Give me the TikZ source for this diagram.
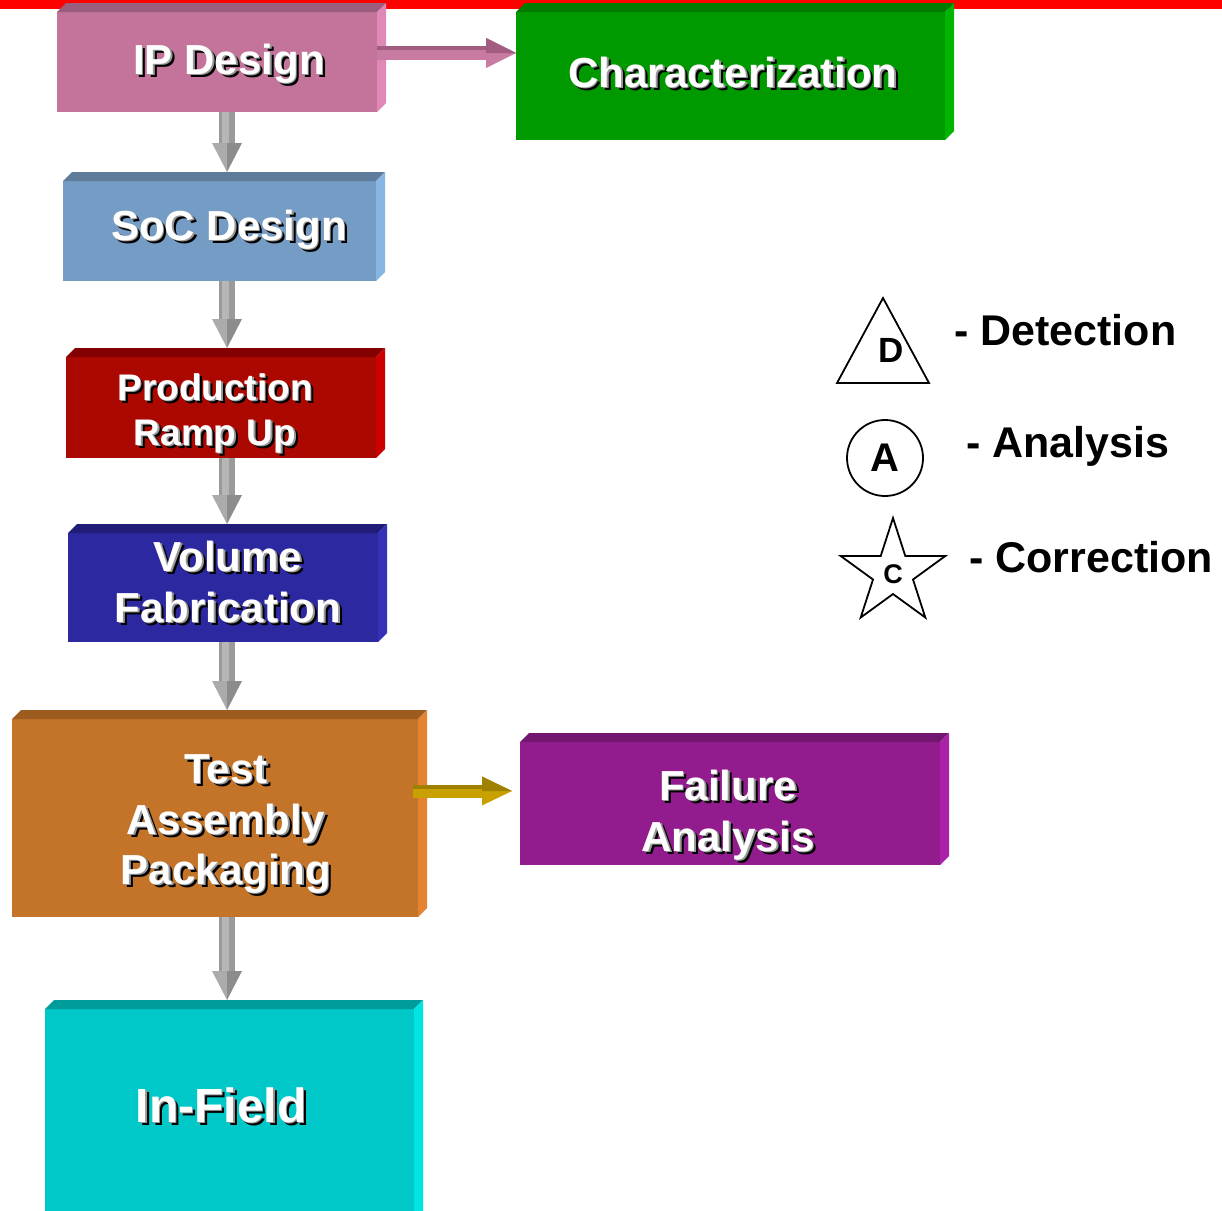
\documentclass[tikz,border=0pt]{standalone}
\usepackage{fontspec}
\setmainfont{Liberation Sans}
\usetikzlibrary{calc}

% colours of the slabs: front / top / side
\definecolor{ipF}{HTML}{C4749A}\definecolor{ipT}{HTML}{9A5E7C}\definecolor{ipS}{HTML}{E088B6}
\definecolor{socF}{HTML}{749CC4}\definecolor{socT}{HTML}{5E7C9A}\definecolor{socS}{HTML}{88B6E4}
\definecolor{prF}{HTML}{AA0800}\definecolor{prT}{HTML}{840000}\definecolor{prS}{HTML}{CC0000}
\definecolor{voF}{HTML}{2C28A0}\definecolor{voT}{HTML}{201C78}\definecolor{voS}{HTML}{3430B8}
\definecolor{taF}{HTML}{C47428}\definecolor{taT}{HTML}{9C5C20}\definecolor{taS}{HTML}{E48430}
\definecolor{chF}{HTML}{009A00}\definecolor{chT}{HTML}{007A00}\definecolor{chS}{HTML}{00B400}
\definecolor{faF}{HTML}{921C8E}\definecolor{faT}{HTML}{721670}\definecolor{faS}{HTML}{AA22AA}
\definecolor{ifF}{HTML}{00C8C8}\definecolor{ifT}{HTML}{009C9C}\definecolor{ifS}{HTML}{00E4E4}
% connector colours
\definecolor{shaftA}{HTML}{9A9A9A}\definecolor{shaftB}{HTML}{B6B6B6}
\definecolor{headA}{HTML}{ABABAB}\definecolor{headB}{HTML}{8C8C8C}
\definecolor{pinkA}{HTML}{C87AA0}\definecolor{pinkB}{HTML}{A25C80}
\definecolor{goldA}{HTML}{C8A000}\definecolor{goldB}{HTML}{A08000}

\tikzset{
  slabface/.style={rectangle, draw=none, inner sep=0pt, outer sep=0pt},
  embtxt/.style={anchor=base, inner sep=0pt, outer sep=0pt},
  keyline/.style={draw=black, line width=1.8pt, line join=miter},
  keytxt/.style={inner sep=0pt, font=\bfseries},
}

% a bevelled slab: name, x, y (front top-left), width, height, front, top, side
\newcommand\slab[8]{%
  \node[slabface, fill=#6, minimum width=#4, minimum height=#5, anchor=north west] (#1) at (#2,#3) {};
  \fill[#7] (#1.north west) -- ++(9,-9) -- ($(#1.north east)+(9,-9)$) -- (#1.north east) -- cycle;
  \fill[#8] (#1.north east) -- ++(9,-9) -- ($(#1.south east)+(9,-9)$) -- (#1.south east) -- cycle;
}

% white lettering over a dark drop shadow, set as one box
\newcommand\shadowed[1]{\leavevmode
  \rlap{\hspace{3.5pt}\raisebox{-3.5pt}{\color{black}#1}}%
  \rlap{\hspace{1.5pt}\raisebox{-1.5pt}{\color{black!40}#1}}%
  {\color{white}#1}}

% a caption line: x, baseline y, size, text, name
\newcommand\emb[5]{%
  \node[embtxt, font=\fontsize{#3}{#3}\selectfont\bfseries] (#5) at (#1,#2) {\shadowed{#4}};
}

% grey downward connector between two slabs
\newcommand\vlink[2]{%
  \coordinate (vtop) at (#1.south -| axis);
  \coordinate (vtip) at ($(#2.north -| axis)+(0,-9)$);
  \fill[shaftA] ($(vtop)+(-8,0)$) rectangle ($(vtip)+(8,-29)$);
  \fill[shaftB] ($(vtop)+(-5,0)$) rectangle ($(vtip)+(2,-29)$);
  \fill[headA] ($(vtip)+(-15,-29)$) -- (vtip) -- ($(vtip)+(0,-29)$) -- cycle;
  \fill[headB] ($(vtip)+(15,-29)$) -- (vtip) -- ($(vtip)+(0,-29)$) -- cycle;
}

\begin{document}
\begin{tikzpicture}[x=1pt, y=-1pt]
\clip (0,0) rectangle (1222,1210);
\fill[white] (0,0) rectangle (1222,1210);
\fill[red] (0,0) rectangle (1222,8.5);
\coordinate (axis) at (227,0);

% process slabs
\slab{ip}{57}{12}{320}{100}{ipF}{ipT}{ipS}
\slab{soc}{63}{181}{313}{100}{socF}{socT}{socS}
\slab{prod}{66}{357}{310}{101}{prF}{prT}{prS}
\slab{vol}{68}{533}{310}{109}{voF}{voT}{voS}
\slab{test}{12}{719}{406}{198}{taF}{taT}{taS}
\slab{field}{45}{1009}{369}{220}{ifF}{ifT}{ifS}
\slab{char}{516}{12}{429}{128}{chF}{chT}{chS}
\slab{fail}{520}{742}{420}{123}{faF}{faT}{faS}

% downward flow
\vlink{ip}{soc}
\vlink{soc}{prod}
\vlink{prod}{vol}
\vlink{vol}{test}
\vlink{test}{field}

% IP Design -> Characterization
\coordinate (pstart) at ($(ip.north east)+(0,41)$);
\coordinate (ptip) at (pstart -| char.west);
\fill[pinkA] ($(pstart)+(0,-7)$) rectangle ($(ptip)+(-30,7)$);
\fill[pinkB] ($(pstart)+(0,-7)$) rectangle ($(ptip)+(-30,-3)$);
\fill[pinkA] ($(ptip)+(-30,-15)$) -- (ptip) -- ($(ptip)+(-30,15)$) -- cycle;
\fill[pinkB] ($(ptip)+(-30,-15)$) -- (ptip) -- ($(ptip)+(-30,0)$) -- cycle;

% Test / Assembly / Packaging -> Failure Analysis
\coordinate (gstart) at ($(test.north east)+(-5,72)$);
\coordinate (gtip) at ($(gstart -| fail.west)+(-8,0)$);
\fill[goldA] ($(gstart)+(0,-6.5)$) rectangle ($(gtip)+(-30,6.5)$);
\fill[goldB] ($(gstart)+(0,-6.5)$) rectangle ($(gtip)+(-30,-2.5)$);
\fill[goldA] ($(gtip)+(-30,-14.5)$) -- (gtip) -- ($(gtip)+(-30,14.5)$) -- cycle;
\fill[goldB] ($(gtip)+(-30,-14.5)$) -- (gtip) -- ($(gtip)+(-30,0)$) -- cycle;

% slab captions
\emb{229}{74}{42}{IP Design}{tip}
\emb{229}{240}{42}{SoC Design}{tsoc}
\emb{215}{400}{37}{Production}{tprodA}
\emb{215}{445}{37}{Ramp Up}{tprodB}
\emb{228}{571}{42}{Volume}{tvolA}
\emb{228}{622}{42}{Fabrication}{tvolB}
\emb{226}{783}{42}{Test}{ttestA}
\emb{226}{834}{42}{Assembly}{ttestB}
\emb{226}{884}{42}{Packaging}{ttestC}
\emb{221}{1122}{48}{In-Field}{tfield}
\emb{733}{87}{42}{Characterization}{tchar}
\emb{728}{800}{42}{Failure}{tfailA}
\emb{728}{851}{42}{Analysis}{tfailB}

% key
\draw[keyline] (883,298) -- (929,383) -- (837,383) -- cycle;
\node[keytxt, font=\fontsize{35}{35}\selectfont\bfseries] (kd) at (891,350.5) {D};
\node[circle, keyline, minimum size=76, inner sep=0pt] (kacirc) at (885,458) {};
\node[keytxt, font=\fontsize{40}{40}\selectfont\bfseries] (ka) at (kacirc.center) {A};
\draw[keyline] (893,518) -- (905.3,556) -- (945.3,556) -- (913,579.5) -- (925.3,617.5)
  -- (893,594) -- (860.7,617.5) -- (873,579.5) -- (840.7,556) -- (880.7,556) -- cycle;
\node[keytxt, font=\fontsize{27}{27}\selectfont\bfseries] (kc) at (893,574) {C};

\node[keytxt, anchor=base west, font=\fontsize{43}{43}\selectfont\bfseries] (ld) at (954,345) {- Detection};
\node[keytxt, anchor=base west, font=\fontsize{43}{43}\selectfont\bfseries] (la) at (966,457) {- Analysis};
\node[keytxt, anchor=base west, font=\fontsize{43}{43}\selectfont\bfseries] (lc) at (969,572) {- Correction};
\end{tikzpicture}
\end{document}
